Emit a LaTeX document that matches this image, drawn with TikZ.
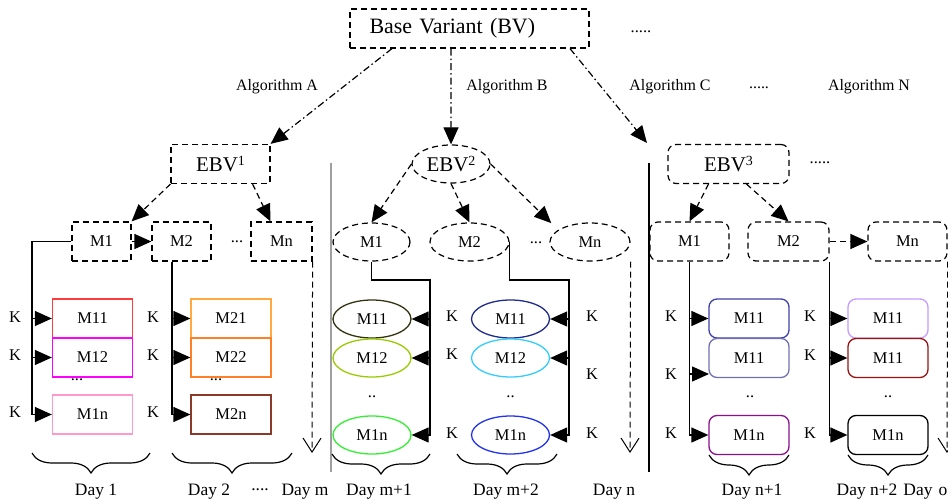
\documentclass[tikz,border=0pt]{standalone}
\usepackage{fontspec}
\setmainfont{Liberation Serif}
\usetikzlibrary{arrows.meta,shapes.geometric,decorations.pathreplacing}
\definecolor{mred}{HTML}{FF3B3B}
\definecolor{mmag}{HTML}{FF00FF}
\definecolor{mpink}{HTML}{FF99CC}
\definecolor{morngl}{HTML}{FFA940}
\definecolor{morng}{HTML}{FF7F27}
\definecolor{mbrown}{HTML}{8B3A2A}
\definecolor{molive}{HTML}{333311}
\definecolor{mlime}{HTML}{99CC00}
\definecolor{mgreen}{HTML}{33EE33}
\definecolor{mnavy}{HTML}{1F2A8A}
\definecolor{mcyan}{HTML}{33CCFF}
\definecolor{mblue}{HTML}{2233EE}
\definecolor{mslate}{HTML}{3F3FA8}
\definecolor{mslateb}{HTML}{7070B0}
\definecolor{mpurple}{HTML}{8B108B}
\definecolor{mlav}{HTML}{C59BFF}
\definecolor{mmaroon}{HTML}{991111}
\newcommand{\ebvsup}[1]{\raisebox{6bp}{\fontsize{14}{16}\selectfont #1}}

\begin{document}
\begin{tikzpicture}[x=1bp,y=-1bp]
\tikzstyle{every node}+=[inner sep=0pt, font=\fontsize{16.5}{19}\selectfont]
\tikzstyle{dsh}=[dash pattern=on 6bp off 4bp, line width=1.2bp]
\tikzstyle{ddot}=[dash pattern=on 7bp off 3bp on 1.5bp off 3bp, line width=1.2bp]
\tikzstyle{dbox}=[draw, dsh, minimum height=39bp]
\tikzstyle{dell}=[draw, dsh, ellipse, minimum height=38bp]
\tikzstyle{drnd}=[draw, dsh, rounded corners=8bp, minimum height=39bp]
\tikzstyle{mbox}=[draw, line width=1.3bp, minimum width=80bp, minimum height=39bp]
\tikzstyle{mell}=[draw, line width=1.3bp, ellipse, minimum width=78bp, minimum height=38bp]
\tikzstyle{mrnd}=[mbox, rounded corners=8bp]
\tikzstyle{tri}=[-{Triangle[length=17bp,width=15bp]}]
\tikzstyle{vee}=[-{Straight Barb[length=14bp,width=18bp,line width=1bp]}]
\tikzstyle{wire}=[line width=1.3bp]
\tikzstyle{brc}=[decorate, decoration={brace, mirror, amplitude=20bp}, line width=1.2bp]
\tikzstyle{big}=[font=\fontsize{22}{26}\selectfont]
\tikzstyle{ebv}=[font=\fontsize{21}{25}\selectfont]
\tikzstyle{alg}=[font=\fontsize{16}{19}\selectfont]
\tikzstyle{day}=[font=\fontsize{17.5}{20}\selectfont]
\useasboundingbox (0,0) rectangle (948,504);

\node[dbox, big, minimum width=239bp, text width=200bp, align=left] (BV) at (469.5,28.5) {Base Variant (BV)};
\node (dotsBV) at (641,32) {.....};
\node[alg] (AlgA) at (277,87) {Algorithm A};
\node[alg] (AlgB) at (507,87) {Algorithm B};
\node[alg] (AlgC) at (670,87) {Algorithm C};
\node[alg] (dotsAlg) at (759,88) {.....};
\node[alg] (AlgN) at (869,87) {Algorithm N};

\node[dbox, ebv, minimum width=99bp] (EBV1) at (220.5,164) {EBV\ebvsup{1}};
\node[dell, ebv, minimum width=78bp] (EBV2) at (451,164) {EBV\ebvsup{2}};
\node[drnd, ebv, minimum width=121bp] (EBV3) at (728.5,164) {EBV\ebvsup{3}};
\node (dotsEBV) at (820,163) {.....};
\coordinate (C3) at (647,143);
\draw[ddot, tri] ([xshift=-77.5bp]BV.south) -- (EBV1.north east);
\draw[ddot, tri] ([xshift=-18.5bp]BV.south) -- (EBV2.north);
\draw[ddot, tri] ([xshift=100.5bp]BV.south) -- (C3);

\draw[line width=2.5bp, gray!75] (331,163) -- (331,472);
\draw[line width=1.3bp] (649,163) -- (649,472);

% day 1 .. day m
\node[dbox, minimum width=59bp] (LM1) at (101.5,241.5) {M1};
\node[dbox, minimum width=59bp] (LM2) at (181.5,241.5) {M2};
\node (dotsLM) at (237,242) {...};
\node[dbox, minimum width=61bp] (LMn) at (281.5,241.5) {Mn};
\draw[dsh, tri] (EBV1.south west) -- (LM1.north east);
\draw[dsh, tri] ([xshift=-18bp]EBV1.south east) -- ([xshift=-11bp]LMn.north);
\draw[dsh, tri] (LM1.east) -- (LM2.west);

\node[mbox, draw=mred] (LM11) at (92.5,318.5) {M11};
\node[mbox, draw=mmag] (LM12) at (92.5,357.5) {M12};
\node (dotsL1) at (77,380) {...};
\node[mbox, draw=mpink] (LM1n) at (92.5,414.5) {M1n};
\node[mbox, draw=morngl] (LM21) at (231,318.5) {M21};
\node[mbox, draw=morng] (LM22) at (231,357.5) {M22};
\node (dotsL2) at (216,380) {...};
\node[mbox, draw=mbrown] (LM2n) at (231,414.5) {M2n};

\coordinate (LA) at (32,241.5);
\draw[wire, tri] (LM1.west) -- (LA) |- (LM1n.west);
\draw[wire, tri] (LA |- LM11.west) -- (LM11.west);
\draw[wire, tri] (LA |- LM12.west) -- (LM12.west);
\coordinate (LB) at ([xshift=-9.5bp]LM2.south);
\draw[wire, tri] (LB) |- (LM2n.west);
\draw[wire, tri] (LB |- LM21.west) -- (LM21.west);
\draw[wire, tri] (LB |- LM22.west) -- (LM22.west);
\coordinate (LEnd) at (312,453);
\draw[dsh, line width=1bp, vee] (LMn.south east) -- (LEnd);

\node (KL1) at (15,317) {K};
\node (KL2) at (15,355) {K};
\node (KL3) at (15,412) {K};
\node (KL4) at (153,317) {K};
\node (KL5) at (153,355) {K};
\node (KL6) at (153,412) {K};

% day m+1 .. day n
\node[dell, minimum width=77bp] (MM1) at (371.5,242) {M1};
\node[dell, minimum width=79bp] (MM2) at (469.5,242) {M2};
\node (dotsMM) at (536,243) {...};
\node[dell, minimum width=80bp] (MMn) at (590,242) {Mn};
\draw[dsh, tri] (EBV2.west) -- (MM1.north);
\draw[dsh, tri] (EBV2.south) -- (MM2.north);
\draw[dsh, tri] (EBV2.east) -- ([xshift=-10bp,yshift=5bp]MMn.north west);

\node[mell, draw=molive] (MM11) at (372,319) {M11};
\node[mell, draw=mlime] (MM12) at (372,358) {M12};
\node (dotsM1) at (372,397) {..};
\node[mell, draw=mgreen] (MM1n) at (372,435) {M1n};
\node[mell, draw=mnavy] (MM21) at (510.5,319) {M11};
\node[mell, draw=mcyan] (MM22) at (510.5,358) {M12};
\node (dotsM2) at (510.5,397) {..};
\node[mell, draw=mblue] (MM2n) at (510.5,435) {M1n};

\coordinate (MA) at (430,280);
\draw[wire, tri] (MM1.south) |- (MA) |- (MM1n.east);
\draw[wire, tri] (MA |- MM11.east) -- (MM11.east);
\draw[wire, tri] (MA |- MM12.east) -- (MM12.east);
\coordinate (MB) at (569,280);
\draw[wire, tri] (MM2.east) |- (MB) |- (MM2n.east);
\draw[wire, tri] (MB |- MM21.east) -- (MM21.east);
\draw[wire, tri] (MB |- MM22.east) -- (MM22.east);
\coordinate (MEnd) at (630,453);
\draw[dsh, line width=1bp, vee] (MMn.east |- MMn.south) -- (MEnd);

\node (KM1) at (452,316) {K};
\node (KM2) at (452,354) {K};
\node (KM3) at (452,433) {K};
\node (KM4) at (592,316) {K};
\node (KM5) at (592,374) {K};
\node (KM6) at (592,433) {K};

% day n+1 .. day o
\node[drnd, minimum width=79bp] (RM1) at (689.5,241.5) {M1};
\node[drnd, minimum width=81bp] (RM2) at (788.5,241.5) {M2};
\node[drnd, minimum width=79bp] (RMn) at (907.5,241.5) {Mn};
\draw[dsh, tri] ([xshift=-20bp]EBV3.south) -- (RM1.north);
\draw[dsh, tri] ([xshift=18bp]EBV3.south) -- (RM2.north);
\draw[dsh, tri] (RM2.east) -- (RMn.west);

\node[mrnd, draw=mslate] (RM11) at (749,318.5) {M11};
\node[mrnd, draw=mslateb] (RM12) at (749,358) {M11};
\node (dotsR1) at (750,397) {..};
\node[mrnd, draw=mpurple] (RM1n) at (749,435) {M1n};
\node[mrnd, draw=mlav] (RM21) at (888,318.5) {M11};
\node[mrnd, draw=mmaroon] (RM22) at (888,358) {M11};
\node (dotsR2) at (888,397) {..};
\node[mrnd, draw=black] (RM2n) at (888,435) {M1n};

\coordinate (RK) at (709,374);
\draw[wire, tri] (RM1.south) |- (RM1n.west);
\draw[wire, tri] (RM1.south |- RM11.west) -- (RM11.west);
\draw[wire, tri] (RM1.south |- RK) -- (RK);
\draw[wire, tri] (RM2.south east) |- (RM2n.west);
\draw[wire, tri] (RM2.south east |- RM21.west) -- (RM21.west);
\draw[wire, tri] (RM2.south east |- RM22.west) -- (RM22.west);
\coordinate (REnd) at (947,453);
\draw[dsh, line width=1bp, vee] (RMn.south east) -- (REnd);

\node (KR1) at (671,316) {K};
\node (KR2) at (671,374) {K};
\node (KR3) at (671,433) {K};
\node (KR4) at (810,316) {K};
\node (KR5) at (810,355) {K};
\node (KR6) at (810,433) {K};

% days
\draw[brc] (32,453) -- (150,453);
\draw[brc] (172,453) -- (292,453);
\draw[brc] (332,454) -- (430,454);
\draw[brc] (457,454) -- (557,454);
\draw[brc] (709,455) -- (789,455);
\draw[brc] (848,455) -- (928,455);
\node[day] (D1) at (96,492) {Day 1};
\node[day] (D2) at (209,492) {Day 2};
\node[day] (dotsD) at (260,490) {....};
\node[day] (Dm) at (305,492) {Day m};
\node[day] (Dm1) at (379,492) {Day m+1};
\node[day] (Dm2) at (506,492) {Day m+2};
\node[day] (Dn) at (614,492) {Day n};
\node[day] (Dn1) at (752,492) {Day n+1};
\node[day] (Dn2) at (867,492) {Day n+2};
\node[day] (Do) at (918,492) {Day};
\node[day] (Doo) at (943,492) {\vphantom{Dy}o};
\end{tikzpicture}
\end{document}
